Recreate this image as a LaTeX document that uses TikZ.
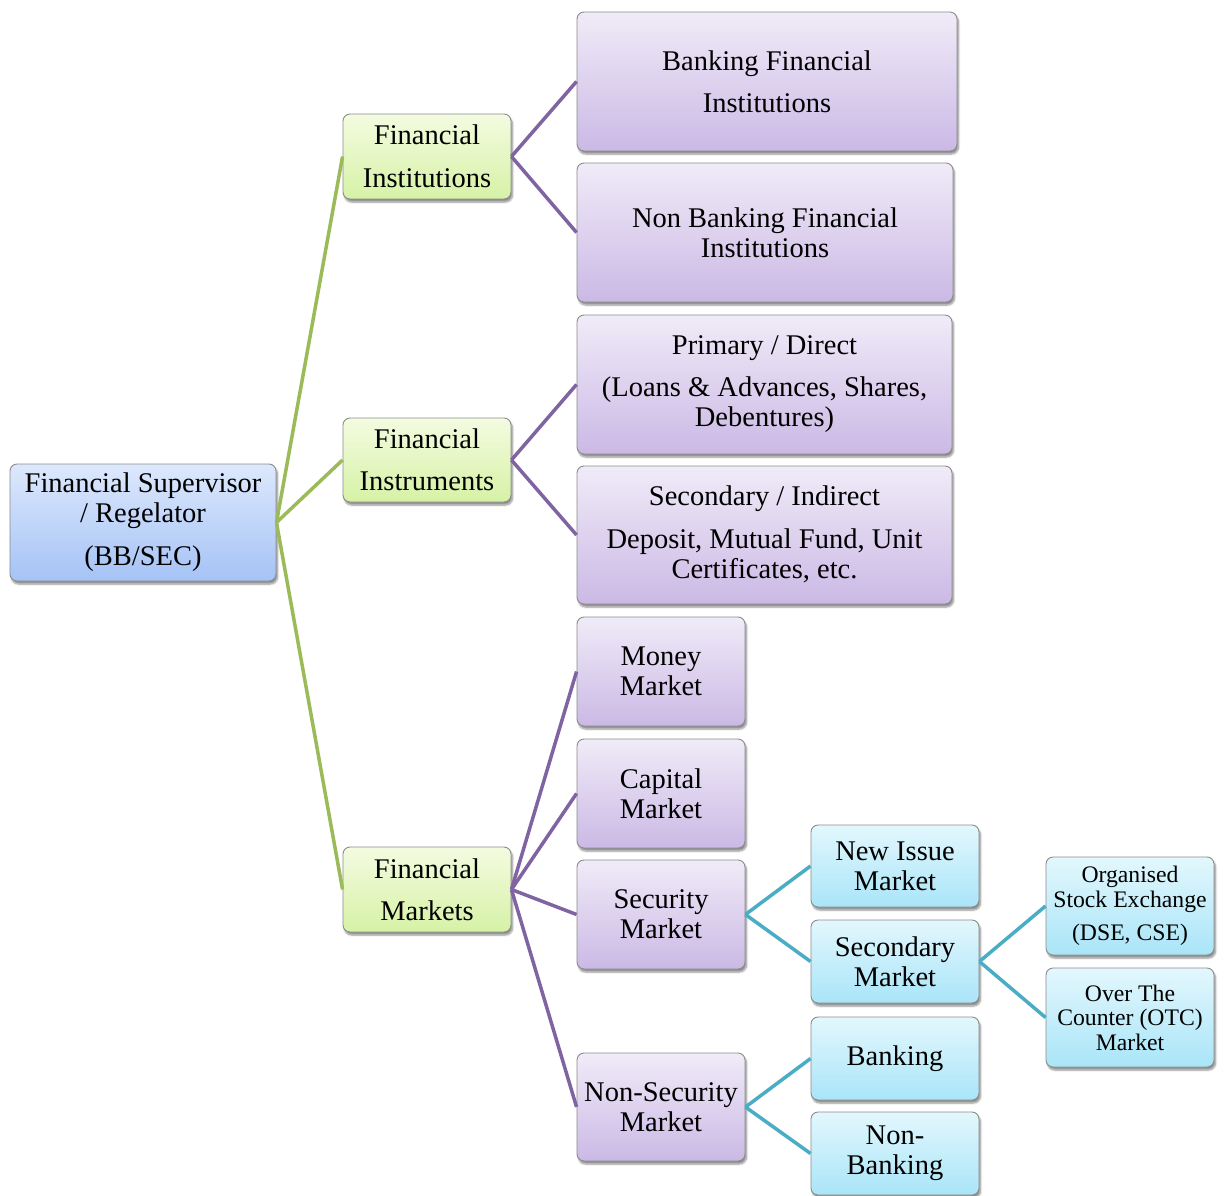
\documentclass[tikz,border=0pt]{standalone}
\usepackage{fontspec}
\setmainfont{Liberation Serif}
\usepackage{tikz}
\usetikzlibrary{shadows,shadows.blur}
\definecolor{greenline}{HTML}{9BBB59}
\definecolor{purpleline}{HTML}{8064A2}
\definecolor{blueline}{HTML}{4BACC6}
\definecolor{roottop}{HTML}{DDE8FC}
\definecolor{rootbot}{HTML}{A5C3F6}
\definecolor{greentop}{HTML}{F4FBE1}
\definecolor{greenbot}{HTML}{D6F2A6}
\definecolor{purpletop}{HTML}{F0EBF8}
\definecolor{purplebot}{HTML}{CBB9E5}
\definecolor{bluetop}{HTML}{E3F7FD}
\definecolor{bluebot}{HTML}{A9E5F8}
\tikzset{
  box/.style={draw=black!45,line width=0.9pt,rounded corners=7pt,inner sep=0pt,align=center,
    font=\fontsize{28.5}{30}\selectfont,
    blur shadow={shadow xshift=1.5pt,shadow yshift=-3pt,shadow blur steps=6,shadow opacity=45}},
  rootbox/.style={box,top color=roottop,bottom color=rootbot},
  greenbox/.style={box,top color=greentop,bottom color=greenbot},
  purplebox/.style={box,top color=purpletop,bottom color=purplebot},
  bluebox/.style={box,top color=bluetop,bottom color=bluebot},
  smallbox/.style={bluebox,font=\fontsize{23.7}{24.5}\selectfont},
  gline/.style={greenline,line width=3.5pt},
  pline/.style={purpleline,line width=3.5pt},
  bline/.style={blueline,line width=3.5pt}
}
\begin{document}
\begin{tikzpicture}[x=1pt,y=-1pt]
\useasboundingbox (0,0) rectangle (1227,1196);
%level 0
\node[rootbox,minimum width=266pt,minimum height=117pt] (root) at (143,522.5)
  {Financial Supervisor\\/ Regelator\\[13pt](BB/SEC)\rule[-6pt]{0pt}{1pt}};
%level 1
\node[greenbox,minimum width=168pt,minimum height=85pt] (finst) at (427,156.5) {Financial\\[13pt]Institutions};
\node[greenbox,minimum width=168pt,minimum height=84pt] (finstr) at (427,460) {Financial\\[12pt]Instruments};
\node[greenbox,minimum width=168pt,minimum height=85pt] (fmkt) at (427,889.5) {Financial\\[12pt]Markets};
%institutions
\node[purplebox,minimum width=380pt,minimum height=139pt] (bank) at (767,81.5) {Banking Financial\\[12pt]Institutions};
\node[purplebox,minimum width=376pt,minimum height=139pt] (nbank) at (765,232.5) {Non Banking Financial\\Institutions};
%instruments
\node[purplebox,minimum width=375pt,minimum height=139pt] (prim) at (764.5,384.5)
  {Primary / Direct\\[12pt](Loans \& Advances, Shares,\\Debentures)\rule[-5pt]{0pt}{1pt}};
\node[purplebox,minimum width=375pt,minimum height=138pt] (secind) at (764.5,535)
  {Secondary / Indirect\\[13pt]Deposit, Mutual Fund, Unit\\Certificates, etc.\rule[-5pt]{0pt}{1pt}};
%markets
\node[purplebox,minimum width=168pt,minimum height=109pt] (money) at (661,671.5) {Money\\Market};
\node[purplebox,minimum width=168pt,minimum height=109pt] (capital) at (661,793.5) {Capital\\Market};
\node[purplebox,minimum width=168pt,minimum height=109pt] (secur) at (661,914.5) {Security\\Market};
\node[purplebox,minimum width=168pt,minimum height=108pt] (nonsec) at (661,1107) {Non-Security\\Market};
%security market
\node[bluebox,minimum width=168pt,minimum height=82pt] (newiss) at (895,866) {New Issue\\Market};
\node[bluebox,minimum width=168pt,minimum height=83pt] (secmkt) at (895,961.5) {Secondary\\Market};
\node[smallbox,minimum width=168pt,minimum height=98pt] (orgse) at (1130,906) {Organised\\Stock Exchange\\[9pt](DSE, CSE)\rule[-5pt]{0pt}{1pt}};
\node[smallbox,minimum width=168pt,minimum height=99pt] (otc) at (1130,1017.5) {Over The\\Counter (OTC)\\Market};
%non-security market
\node[bluebox,minimum width=168pt,minimum height=83pt] (banking) at (895,1058.5) {Banking};
\node[bluebox,minimum width=168pt,minimum height=83pt] (nbanking) at (895,1153.5) {Non-\\Banking};
%connectors
\foreach \t in {finst,finstr,fmkt} \draw[gline] (root.east) -- (\t.west);
\foreach \t in {bank,nbank} \draw[pline] (finst.east) -- (\t.west);
\foreach \t in {prim,secind} \draw[pline] (finstr.east) -- (\t.west);
\foreach \t in {money,capital,secur,nonsec} \draw[pline] (fmkt.east) -- (\t.west);
\foreach \t in {newiss,secmkt} \draw[bline] (secur.east) -- (\t.west);
\foreach \t in {orgse,otc} \draw[bline] (secmkt.east) -- (\t.west);
\foreach \t in {banking,nbanking} \draw[bline] (nonsec.east) -- (\t.west);
\end{tikzpicture}
\end{document}
